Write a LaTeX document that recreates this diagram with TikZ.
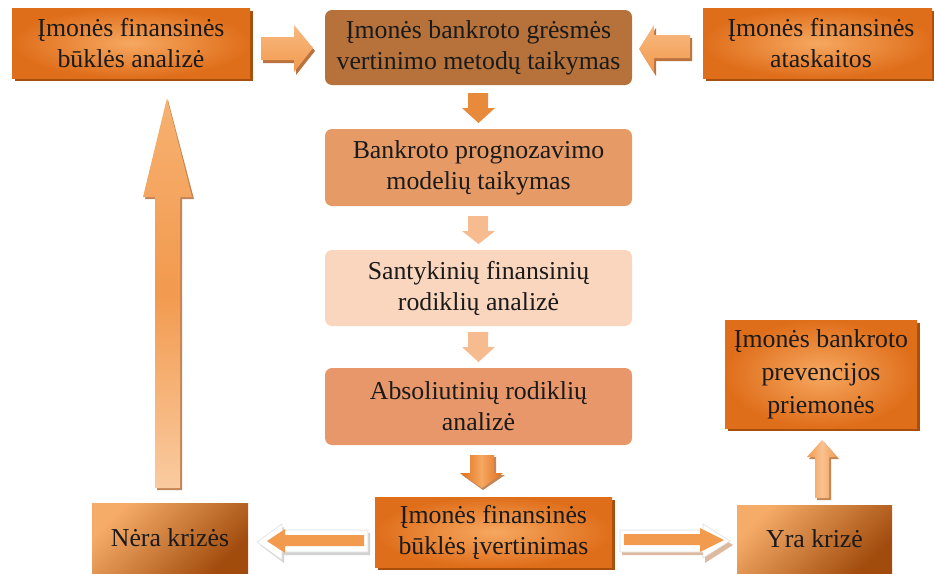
\documentclass[tikz,border=0pt]{standalone}
\usepackage{fontspec}
\setmainfont{Liberation Serif}
\usetikzlibrary{shadows}
\definecolor{orIn}{HTML}{F6A861}
\definecolor{orOut}{HTML}{DF6E1A}
\definecolor{orShadow}{HTML}{A94F0E}
\definecolor{topBrown}{HTML}{B6723A}
\definecolor{boxTwo}{HTML}{E69B67}
\definecolor{boxThree}{HTML}{FBD6BE}
\definecolor{boxFour}{HTML}{E8976A}
\definecolor{arrOne}{HTML}{E88A3C}
\definecolor{arrLight}{HTML}{F6BC90}
\definecolor{arrMid}{HTML}{F29A4E}
\definecolor{txt}{HTML}{1A1A1A}
\tikzset{
  lbl/.style={font=\fontsize{25.8}{31}\selectfont, text=txt, align=center, inner sep=0pt},
  orbox/.style={lbl, shade, inner color=orIn, outer color=orOut,
     drop shadow={shadow xshift=2.5pt, shadow yshift=-3pt, fill=orShadow, opacity=1}},
  flatbox/.style={lbl, rounded corners=7pt},
  gradbox/.style={lbl, shade, left color=orIn!95!white, right color=orShadow!95!black, shading angle=45},
}
\begin{document}
\begin{tikzpicture}[x=1pt,y=-1pt]
\useasboundingbox (0,0) rectangle (934,573);

% boxes
\node[orbox, minimum width=238pt, minimum height=70pt] (fa) at (131,43) {Įmonės finansinės\\būklės analizė};
\node[flatbox, fill=topBrown, minimum width=307pt, minimum height=75pt] (bg) at (478.5,47.5) {Įmonės bankroto grėsmės\\vertinimo metodų taikymas};
\node[orbox, minimum width=229pt, minimum height=70pt] (fat) at (817.5,43) {\hspace*{7pt}Įmonės finansinės\\\hspace*{7pt}ataskaitos};
\node[flatbox, fill=boxTwo, minimum width=307pt, minimum height=77pt] (bpm) at (478.5,167.5) {Bankroto prognozavimo\\modelių taikymas};
\node[flatbox, fill=boxThree, minimum width=307pt, minimum height=76pt] (sfr) at (478.5,288) {Santykinių finansinių\\rodiklių analizė};
\node[flatbox, fill=boxFour, minimum width=307pt, minimum height=77pt] (ara) at (478.5,406.5) {Absoliutinių rodiklių\\analizė};
\node[orbox, minimum width=237pt, minimum height=70pt] (fbi) at (493.5,532) {Įmonės finansinės\\būklės įvertinimas};
\node[gradbox, minimum width=156pt, minimum height=70pt] (nk) at (170,538) {Nėra krizės};
\node[gradbox, minimum width=155pt, minimum height=68pt] (yk) at (814.5,539) {Yra krizė};
\node[orbox, minimum width=192pt, minimum height=108pt, font=\fontsize{25.8}{33}\selectfont] (bpp) at (821,374) {Įmonės bankroto\\prevencijos\\priemonės};

% top horizontal block arrows
\fill[orShadow!80] (263,40)--(296,40)--(296,28)--(315,51)--(296,75)--(296,63)--(263,63)--cycle;
\shade[top color=orIn!80!white, bottom color=arrMid] (261,37)--(294,37)--(294,25)--(313,48)--(294,72)--(294,60)--(261,60)--cycle;
\fill[orShadow!80] (692,38)--(656,38)--(656,28)--(641,52)--(656,76)--(656,61)--(692,61)--cycle;
\shade[top color=orIn!80!white, bottom color=arrMid] (690,35)--(654,35)--(654,25)--(639,49)--(654,73)--(654,58)--(690,58)--cycle;

% vertical down arrows in the middle
\fill[arrOne] (468,93)--(488,93)--(488,108)--(495,108)--(478.5,123)--(462,108)--(468,108)--cycle;
\fill[arrLight] (468,216)--(488,216)--(488,231)--(495,231)--(478.5,244)--(462,231)--(468,231)--cycle;
\fill[arrLight] (468,332)--(488,332)--(488,347)--(495,347)--(478.5,362)--(462,347)--(468,347)--cycle;
\fill[orShadow!70] (472,457)--(496,457)--(496,475)--(505,475)--(483,490)--(462,475)--(472,475)--cycle;
\shade[left color=orOut, right color=orOut, middle color=orIn] (470,455)--(494,455)--(494,473)--(503,473)--(482,488)--(460,473)--(470,473)--cycle;

% big up arrow on the left
\fill[orShadow!70] (157,490)--(157,199)--(145,199)--(168,100)--(194,199)--(182,199)--(182,490)--cycle;
\shade[top color=orIn!90!white, bottom color=orIn!60!white, middle color=arrMid] (155,488)--(155,197)--(143,197)--(167,98)--(192,197)--(180,197)--(180,488)--cycle;

% small up arrow on the right
\fill[orShadow!70] (817,500)--(817,459)--(809,459)--(824,442)--(839,459)--(831,459)--(831,500)--cycle;
\shade[left color=arrMid, right color=arrMid, middle color=orIn!70!white] (815,498)--(815,457)--(807,457)--(822,440)--(837,457)--(829,457)--(829,498)--cycle;

% bottom hollow arrows
\fill[gray!35] (370,533)--(284,533)--(284,527)--(260,545)--(284,563)--(284,555)--(370,555)--cycle;
\fill[white, draw=gray!25, line width=0.6pt] (368,530)--(282,530)--(282,524)--(257,542)--(282,560)--(282,552)--(368,552)--cycle;
\fill[arrMid] (364,535)--(285,535)--(285,529)--(267,541)--(285,553)--(285,546)--(364,546)--cycle;

\fill[orShadow!40] (622,533)--(705,533)--(705,527)--(733,545)--(705,563)--(705,555)--(622,555)--cycle;
\fill[white, draw=gray!25, line width=0.6pt] (620,530)--(703,530)--(703,524)--(730,541)--(703,558)--(703,552)--(620,552)--cycle;
\fill[arrMid] (624,534)--(700,534)--(700,528)--(724,540)--(700,552)--(700,545)--(624,545)--cycle;
\end{tikzpicture}
\end{document}
